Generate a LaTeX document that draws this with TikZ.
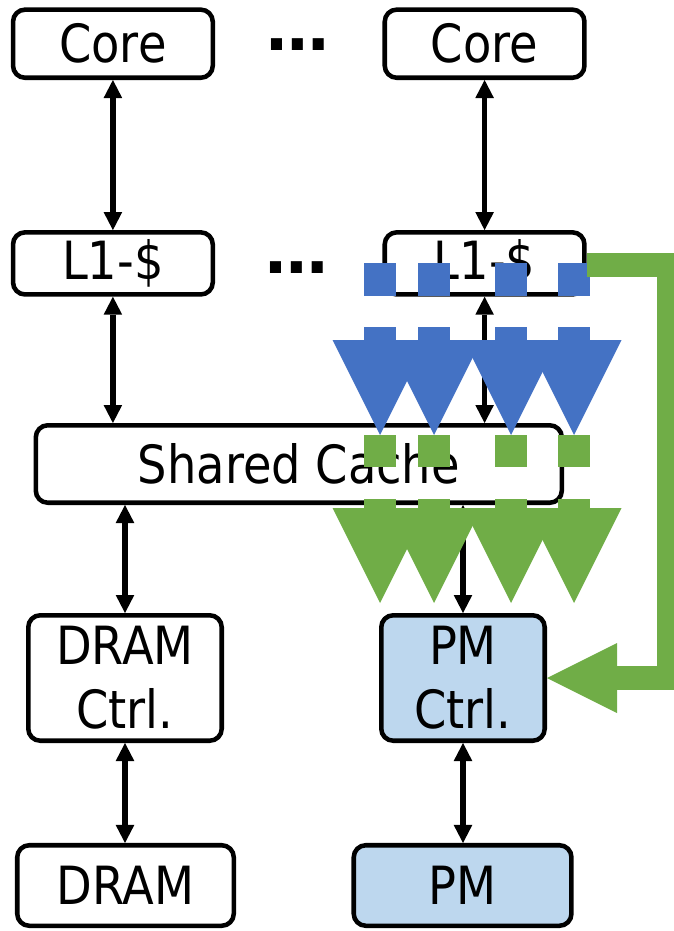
\documentclass[tikz,border=0pt]{standalone}
\usepackage{fontspec}
\setmainfont{DejaVu Sans}[FakeStretch=0.88]
\newfontfamily\dotsfont{DejaVu Sans}
\usetikzlibrary{arrows.meta}
\definecolor{pmblue}{HTML}{BDD7EE}
\definecolor{fblue}{HTML}{4472C4}
\definecolor{fgreen}{HTML}{70AD47}
\begin{document}
\begin{tikzpicture}[x=0.75pt,y=-0.75pt,
  box/.style={draw, line width=3.4pt, rounded corners=9pt, inner sep=0pt, align=center,
    font=\fontsize{39.5}{48}\selectfont},
  pmbox/.style={box, fill=pmblue},
  link/.style={line width=4pt, {Triangle[width=14pt,length=13.5pt,line width=0pt]}-{Triangle[width=14pt,length=13.5pt,line width=0pt]}},
  dotstext/.style={inner sep=0pt, font=\dotsfont\bfseries\fontsize{47}{47}\selectfont},
  flowline/.style={line width=18pt, fgreen, -{Triangle[width=52.5pt,length=52.5pt,line width=0pt]}}
]
\useasboundingbox (0,0) rectangle (674,931);
\clip (0,0) rectangle (674,931);

% boxes
\node[box, minimum width=149.8pt, minimum height=51.1pt] (core1) at (112.9,43.7) {Core};
\node[box, minimum width=149.8pt, minimum height=51.1pt] (core2) at (484.6,43.7) {Core};
\node[box, minimum width=149.8pt, minimum height=46.6pt] (l1a) at (112.9,263.4) {L1-\$};
\node[box, minimum width=149.8pt, minimum height=46.6pt] (l1b) at (484.6,263.4) {L1-\$};
\node[box, minimum width=394.5pt, minimum height=58.1pt] (shared) at (298.8,464) {Shared Cache};
\node[box, minimum width=145.1pt, minimum height=94.1pt] (dramctrl) at (125,678) {DRAM\\Ctrl.};
\node[pmbox, minimum width=122.6pt, minimum height=94.1pt] (pmctrl) at (463,678) {PM\\Ctrl.};
\node[box, minimum width=162.4pt, minimum height=60.4pt] (dram) at (125.5,885.5) {DRAM};
\node[pmbox, minimum width=163.3pt, minimum height=60.4pt] (pm) at (462.6,885.5) {PM};

\node[dotstext] (dots1) at (297.7,44.5) {…};
\node[dotstext] (dots2) at (297.2,268) {…};

% black links
\draw[link] (core1.south) -- (core1.south |- l1a.north);
\draw[link] (core2.south) -- (core2.south |- l1b.north);
\draw[link] (l1a.south) -- (l1a.south |- shared.north);
\draw[link] (l1b.south) -- (l1b.south |- shared.north);
\draw[link] (dramctrl.north |- shared.south) -- (dramctrl.north);
\draw[link] (pmctrl.north |- shared.south) -- (pmctrl.north);
\draw[link] (dramctrl.south) -- (dramctrl.south |- dram.north);
\draw[link] (pmctrl.south) -- (pmctrl.south |- pm.north);

% blue and green dotted flow arrows
\foreach \c in {380,434,511,574} {
  \fill[fblue] (\c-16,263) rectangle (\c+16,296);
  \fill[fblue] (\c-16,327) rectangle (\c+16,341);
  \fill[fblue] (\c-47.5,340) -- (\c+47.5,340) -- (\c,435) -- cycle;
  \fill[fgreen] (\c-16,435) rectangle (\c+16,467);
  \fill[fgreen] (\c-16,499) rectangle (\c+16,509);
  \fill[fgreen] (\c-47.5,508) -- (\c+47.5,508) -- (\c,603) -- cycle;
}

% green write-back path
\coordinate (gc1) at (669,264.5);
\coordinate (gc2) at (669,678);
\draw[flowline] (l1b.east |- gc1) -- (gc1) -- (gc2) -- (pmctrl.east);
\end{tikzpicture}
\end{document}
